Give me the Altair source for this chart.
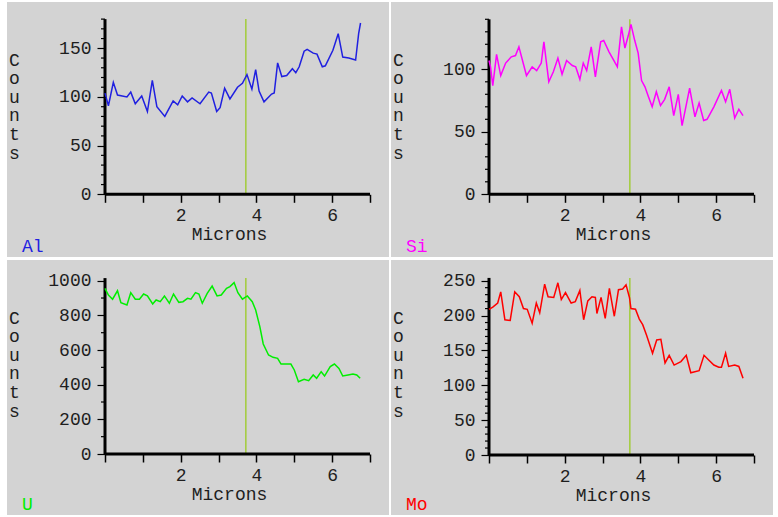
import altair as alt
import pandas as pd

# ---------------- data ----------------
al_x = [0, 0.09, 0.22, 0.33, 0.58, 0.68, 0.80, 0.97, 1.12, 1.25,
        1.37, 1.58, 1.80, 1.92, 2.04, 2.18, 2.30, 2.51, 2.74, 2.81,
        2.95, 3.04, 3.16, 3.30, 3.50, 3.63, 3.75, 3.88, 3.98, 4.07,
        4.20, 4.40, 4.47, 4.56, 4.67, 4.80, 4.95, 5.04, 5.13, 5.26,
        5.34, 5.50, 5.60, 5.74, 5.82, 6.02, 6.16, 6.28, 6.44, 6.62,
        6.70, 6.75]
al_y = [104, 91, 115, 102, 100, 105, 93, 101, 85, 117,
        90, 80, 96, 92, 101, 95, 99, 93, 105, 104,
        85, 89, 109, 98, 110, 114, 123, 108, 128, 106,
        95, 103, 104, 135, 121, 122, 129, 125, 131, 147,
        149, 145, 144, 131, 132, 148, 165, 141, 140, 138,
        165, 176]

si_x = [0, 0.04, 0.10, 0.20, 0.31, 0.44, 0.59, 0.70, 0.79, 0.99,
        1.14, 1.26, 1.38, 1.45, 1.58, 1.70, 1.82, 1.93, 2.05, 2.20,
        2.29, 2.40, 2.49, 2.58, 2.70, 2.81, 2.95, 3.03, 3.17, 3.30,
        3.39, 3.50, 3.59, 3.68, 3.75, 3.85, 3.94, 4.03, 4.12, 4.20,
        4.31, 4.42, 4.53, 4.64, 4.76, 4.88, 5.00, 5.10, 5.30, 5.44,
        5.55, 5.67, 5.76, 5.94, 6.14, 6.25, 6.36, 6.49, 6.60, 6.71]
si_y = [107, 102, 87, 112, 95, 105, 110, 111, 118, 95,
        102, 99, 105, 122, 90, 98, 109, 96, 107, 103,
        102, 92, 105, 99, 118, 94, 122, 123, 114, 107,
        102, 134, 117, 127, 136, 123, 113, 91, 86, 79,
        70, 82, 71, 76, 86, 63, 80, 55, 85, 62,
        73, 59, 60, 70, 83, 74, 84, 61, 68, 63]

u_x = [0, 0.09, 0.20, 0.33, 0.42, 0.58, 0.68, 0.80, 0.91, 1.02,
       1.12, 1.26, 1.35, 1.46, 1.57, 1.70, 1.81, 1.95, 2.06, 2.18,
       2.27, 2.39, 2.48, 2.57, 2.70, 2.83, 2.96, 3.07, 3.21, 3.30,
       3.41, 3.51, 3.63, 3.76, 3.89, 3.98, 4.09, 4.18, 4.32, 4.44,
       4.56, 4.65, 4.91, 5.00, 5.11, 5.26, 5.38, 5.50, 5.59, 5.71,
       5.80, 5.95, 6.06, 6.18, 6.28, 6.42, 6.55, 6.65, 6.74]
u_y = [956, 917, 893, 942, 873, 860, 931, 893, 893, 923,
       912, 866, 889, 879, 912, 870, 923, 875, 879, 898,
       893, 931, 923, 870, 927, 969, 912, 917, 956, 966,
       989, 931, 893, 912, 879, 831, 735, 635, 571, 558,
       552, 519, 519, 485, 417, 431, 423, 456, 437, 475,
       450, 504, 519, 494, 450, 456, 462, 456, 437]

mo_x = [0, 0.10, 0.23, 0.31, 0.42, 0.56, 0.68, 0.80, 0.91, 1.01,
        1.14, 1.25, 1.34, 1.47, 1.56, 1.71, 1.82, 1.91, 2.02, 2.17,
        2.28, 2.40, 2.50, 2.61, 2.72, 2.81, 2.85, 2.96, 3.07, 3.18,
        3.31, 3.42, 3.53, 3.62, 3.71, 3.75, 3.87, 3.97, 4.06, 4.16,
        4.32, 4.43, 4.54, 4.65, 4.76, 4.89, 5.07, 5.21, 5.33, 5.55,
        5.68, 5.81, 5.94, 6.07, 6.14, 6.25, 6.33, 6.49, 6.60, 6.71]
mo_y = [209, 212, 218, 234, 194, 193, 234, 227, 210, 209,
        189, 218, 204, 245, 227, 226, 247, 223, 233, 218,
        220, 236, 194, 221, 227, 226, 203, 226, 196, 239,
        199, 237, 238, 244, 226, 210, 209, 195, 187, 172,
        146, 165, 166, 132, 143, 129, 134, 143, 118, 121,
        143, 136, 129, 126, 126, 146, 127, 129, 127, 110]

marker_x = 3.72
x_ticks = [0, 1, 2, 3, 4, 5, 6, 7]

# ---------------- styling / layout ----------------
FONT = "Liberation Mono"
FS = 18
TEXT = "#1e1e1e"
BG = "#d3d3d3"
MARK_COLOR = "#a2cc3a"
PW, PH = 382, 255          # panel size
X0, X7 = 98.0, 363.0       # pixel of micron 0 and 7 inside a panel
KX = (X7 - X0) / 7


def panel(name, xs, ys, color, zero_px, unit_px, tick_top, line_top, step, lstep):
    xdom = [-X0 / KX, (PW - X0) / KX]
    ydom = [-(PH - zero_px) / unit_px, zero_px / unit_px]
    xsc = alt.Scale(domain=xdom, nice=False, zero=False)
    ysc = alt.Scale(domain=ydom, nice=False, zero=False)
    major = list(range(0, tick_top + 1, lstep))
    minor = [v for v in range(0, tick_top + 1, step) if v % lstep != 0]

    xaxis = alt.Axis(
        values=x_ticks, format="d",
        labelExpr="datum.value > 0 && datum.value % 2 === 0 ? datum.label : ''",
        orient="bottom", offset=-(PH - zero_px), domain=False, grid=False,
        tickSize=8, tickWidth=1.5, tickColor="black",
        labelFont=FONT, labelFontSize=FS, labelColor=TEXT, labelPadding=4,
        labelFlush=False, labelOverlap=False,
        title="Microns", titleFont=FONT, titleFontSize=FS, titleFontWeight="normal",
        titleColor=TEXT, titleX=222, titleY=45, titleAlign="center",
        titleBaseline="alphabetic", zindex=1)
    yaxis = alt.Axis(
        values=major, format="d",
        orient="left", offset=-X0, domain=False, grid=False,
        tickSize=8, tickWidth=1.2, tickColor="black",
        labelFont=FONT, labelFontSize=FS, labelColor=TEXT, labelPadding=6,
        labelFlush=False, labelOverlap=False,
        title=list("Counts"), titleAngle=0, titleX=7 - X0, titleY=63,
        titleLineHeight=18.6, titleAlign="center", titleBaseline="alphabetic",
        titleFont=FONT, titleFontSize=FS, titleFontWeight="normal", titleColor=TEXT,
        zindex=1)

    X = alt.X("x:Q", scale=xsc, axis=xaxis)
    Y = alt.Y("y:Q", scale=ysc, axis=yaxis)

    back = alt.Chart(pd.DataFrame({"name": [name]})).mark_rect(
        color=BG, x=0, x2=PW, y=0, y2=PH
    ).encode(detail="name:N")
    marker = alt.Chart(pd.DataFrame({"x": [marker_x], "y": [0], "y2": [line_top]})).mark_rule(
        color=MARK_COLOR, strokeWidth=1.5
    ).encode(x=X, y=Y, y2="y2:Q")
    minor_ticks = alt.Chart(pd.DataFrame({"y": minor})).mark_rule(
        color="black", strokeWidth=1.2
    ).encode(y=Y, x=alt.value(X0 - 4), x2=alt.value(X0))
    frame = alt.Chart(pd.DataFrame({"x": [0, 0], "x2": [7, 0], "y": [0, 0], "y2": [0, line_top]})).mark_rule(
        color="black", strokeWidth=3
    ).encode(x=X, x2="x2:Q", y=Y, y2="y2:Q")
    line = alt.Chart(pd.DataFrame({"x": xs, "y": ys})).mark_line(
        color=color, strokeWidth=1.5
    ).encode(x=X, y=Y)
    label = alt.Chart(pd.DataFrame({"name": [name]})).mark_text(
        align="left", baseline="alphabetic", font=FONT, fontSize=FS, color=color,
        x=15, y=250
    ).encode(text="name:N")
    return alt.layer(back, marker, minor_ticks, frame, line, label).properties(width=PW, height=PH)


al = panel("Al", al_x, al_y, "#2020e0", 192.3, 0.9733, 180, 180, 10, 50)
si = panel("Si", si_x, si_y, "#ff00ff", 192.3, 1.25, 140, 140, 10, 50)
u = panel("U", u_x, u_y, "#00ee00", 194.0, 0.1733, 1000, 1015, 100, 200)
mo = panel("Mo", mo_x, mo_y, "#ff0000", 195.0, 0.6972, 250, 254, 10, 50)

chart = alt.vconcat(
    alt.hconcat(al, si, spacing=2),
    alt.hconcat(u, mo, spacing=2),
    spacing=3,
).properties(
    background="white",
    padding={"left": 7, "top": 2, "right": 0, "bottom": 0},
).configure_view(fill=BG, strokeWidth=0)

chart.save("out.html", embed_options={"renderer": "svg", "actions": False})
